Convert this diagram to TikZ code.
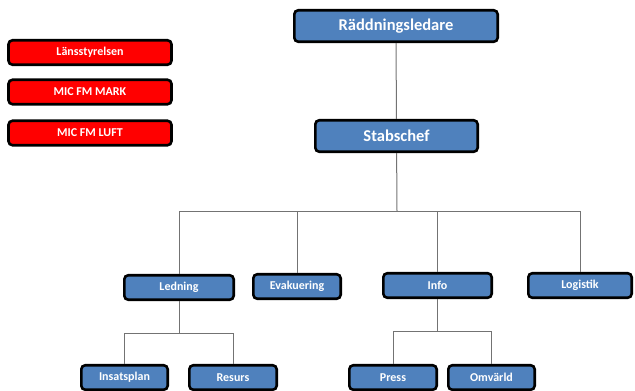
\documentclass[tikz,border=0pt]{standalone}
\usepackage{fontspec}
\setmainfont{Carlito}
\definecolor{orgblue}{HTML}{4F81BD}

\begin{document}
\begin{tikzpicture}[x=1pt,y=-1pt,
	box/.style={draw,line width=2.6pt,rounded corners=4pt,fill=orgblue,text=white,font=\bfseries\fontsize{12}{14}\selectfont,inner sep=0pt,minimum height=24.5pt},
	bigbox/.style={box,font=\bfseries\fontsize{16.5}{19}\selectfont,minimum height=31.5pt},
	redbox/.style={box,fill=red,minimum width=163pt},
	conn/.style={draw=black!55,line width=1pt}]
\useasboundingbox (0,0) rectangle (635,391);
\node [bigbox,minimum width=203.4pt] (rl) at (396,26) {Räddningsledare};
\node [bigbox,minimum width=162.4pt] (sc) at (396.5,136) {Stabschef};
\node [redbox] (ls) at (90,52.5) {Länsstyrelsen};
\node [redbox] (mark) at (90,92) {MIC FM MARK};
\node [redbox] (luft) at (90,133) {MIC FM LUFT};
\node [box,minimum width=109.4pt] (led) at (179,287.5) {Ledning};
\node [box,minimum width=87.4pt] (evak) at (297,286.5) {Evakuering};
\node [box,minimum width=108.4pt] (info) at (437.5,285.5) {Info};
\node [box,minimum width=103.4pt] (log) at (580,285.5) {Logistik};
\node [box,minimum width=86.4pt] (ins) at (124.5,377.5) {Insatsplan};
\node [box,minimum width=87.4pt] (res) at (233,377.5) {Resurs};
\node [box,minimum width=87.4pt] (press) at (393,377.5) {Press};
\node [box,minimum width=86.4pt] (omv) at (491.5,377.5) {Omvärld};
\coordinate (f1) at (397,211);
\coordinate (f2) at (179,333);
\coordinate (f3) at (437.5,331);
\draw [conn] (rl) -- (sc);
\draw [conn] (sc) -- (f1);
\draw [conn] (f1) -| (led.north);
\draw [conn] (f1) -| (evak.north);
\draw [conn] (f1) -| (info.north);
\draw [conn] (f1) -| (log.north);
\draw [conn] (led) -- (f2);
\draw [conn] (f2) -| (ins.north);
\draw [conn] (f2) -| (res.north);
\draw [conn] (info) -- (f3);
\draw [conn] (f3) -| (press.north);
\draw [conn] (f3) -| (omv.north);
\end{tikzpicture}
\end{document}
